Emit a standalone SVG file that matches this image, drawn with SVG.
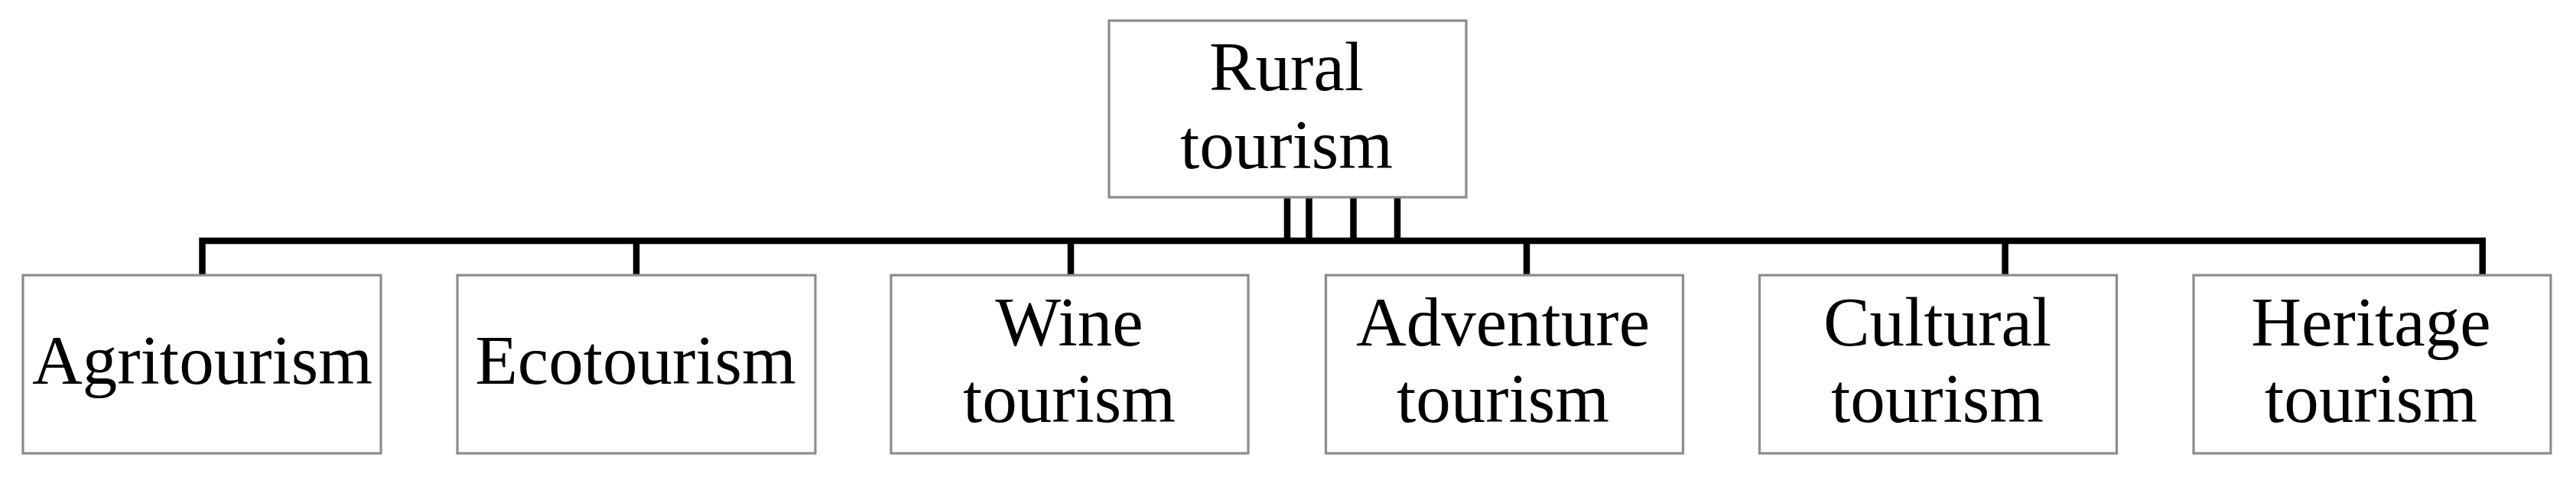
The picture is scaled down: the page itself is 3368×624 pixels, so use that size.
<svg xmlns="http://www.w3.org/2000/svg" width="3368" height="624" viewBox="0 0 3368 624">
<style>
.box{fill:#ffffff;stroke:#8c8c8c;stroke-width:3.2}
.lbl{font-family:"Liberation Serif","Times New Roman",serif;font-size:91px;fill:#000000;text-anchor:middle}
.conn{fill:none;stroke:#000000;stroke-width:8.5;stroke-linejoin:miter;stroke-linecap:butt}
</style>
<rect width="3368" height="624" fill="#ffffff"/>
<g id="connectors">
<path class="conn" d="M264.5,361 V315 H3245.8 V361"/>
<path class="conn" d="M832,315 V361 M1400,315 V361 M1996,315 V361 M2621.6,315 V361"/>
<path class="conn" d="M1683,259 V315 M1711.5,259 V315 M1769.5,259 V315 M1827,259 V315"/>
</g>
<g id="rural-tourism">
<rect class="box" x="1450" y="27" width="467" height="231"/>
<text class="lbl" x="1682" y="118">Rural</text>
<text class="lbl" x="1682" y="220">tourism</text>
</g>
<g id="agritourism">
<rect class="box" x="30" y="360" width="468" height="233"/>
<text class="lbl" x="264.5" y="502">Agritourism</text>
</g>
<g id="ecotourism">
<rect class="box" x="598" y="360" width="468" height="233"/>
<text class="lbl" x="831" y="502">Ecotourism</text>
</g>
<g id="wine-tourism">
<rect class="box" x="1165" y="360" width="467" height="233"/>
<text class="lbl" x="1398" y="452">Wine</text>
<text class="lbl" x="1398" y="552">tourism</text>
</g>
<g id="adventure-tourism">
<rect class="box" x="1733.5" y="360" width="467" height="233"/>
<text class="lbl" x="1965" y="452">Adventure</text>
<text class="lbl" x="1965" y="552">tourism</text>
</g>
<g id="cultural-tourism">
<rect class="box" x="2300.5" y="360" width="467" height="233"/>
<text class="lbl" x="2533" y="452">Cultural</text>
<text class="lbl" x="2533" y="552">tourism</text>
</g>
<g id="heritage-tourism">
<rect class="box" x="2868" y="360" width="467" height="233"/>
<text class="lbl" x="3100" y="452">Heritage</text>
<text class="lbl" x="3100" y="552">tourism</text>
</g>
</svg>
